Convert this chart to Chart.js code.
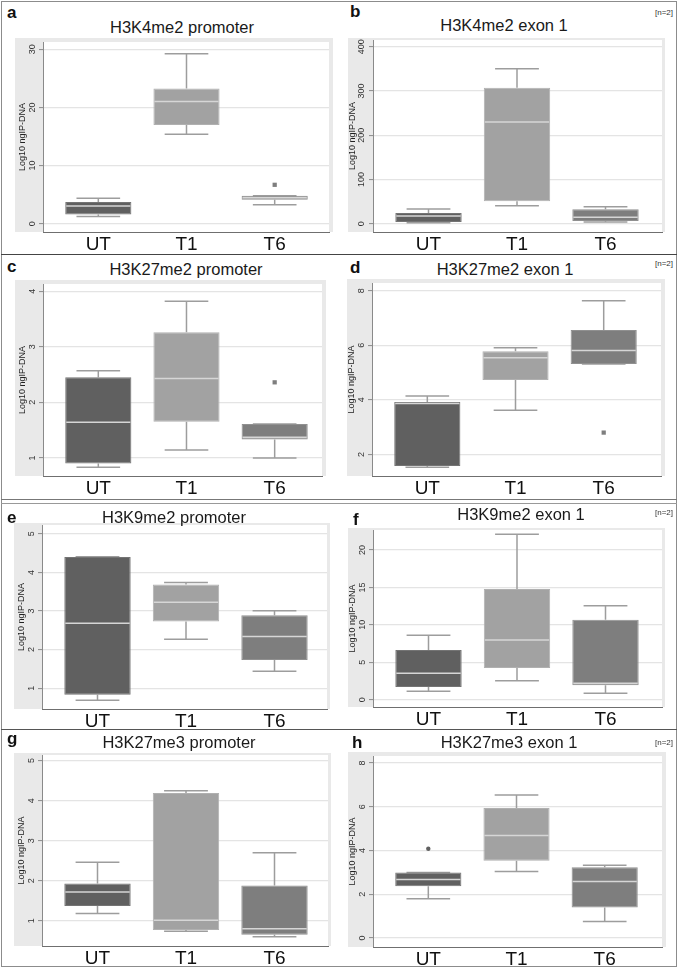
<!DOCTYPE html>
<html>
<head>
<meta charset="utf-8">
<script src="https://cdn.jsdelivr.net/npm/chart.js@4.4.0/dist/chart.umd.min.js"></script>
<style>
  body { margin: 0; background: #fff; width: 680px; height: 969px; position: relative; overflow: hidden;
         font-family: "Liberation Sans", Arial, Helvetica, sans-serif; }
  .cv { position: absolute; z-index: 1; }
  .letter { position: absolute; z-index: 3; font-weight: bold; font-size: 17px; line-height: 17px; color: #111; }
  .title { position: absolute; z-index: 3; font-size: 16.5px; line-height: 16.5px; color: #1a1a1a; transform: translateX(-50%); white-space: nowrap; }
  .n2 { position: absolute; z-index: 3; right: 7px; font-size: 8px; line-height: 8px; color: #333; }
  .frame { position: absolute; left: 1px; top: 1px; width: 676px; height: 966px; border: 1px solid #8c8c8c; box-sizing: border-box; z-index: 5; }
  .sep { position: absolute; left: 1px; width: 676px; height: 0; z-index: 5; }
</style>
</head>
<body>
<div class="frame"></div>
<div class="sep" style="top:254px;border-top:1.5px solid #444"></div>
<div class="sep" style="top:499px;border-top:1px solid #777"></div>
<div class="sep" style="top:503px;border-top:1px solid #999"></div>
<div class="sep" style="top:729px;border-top:1.5px solid #555"></div>

<script>
// Box plot data (Log10 ngIP-DNA), groups UT / T1 / T6
const groups = ['UT', 'T1', 'T6'];

// a - H3K4me2 promoter
const aLow  = [1.25, 15.4, 3.29];
const aQ1   = [1.59, 16.96, 4.14];
const aMed  = [3.06, 21.0, 4.48];
const aQ3   = [3.74, 23.25, 4.82];
const aHigh = [4.37, 29.2, 4.82];
const aOut  = [null, null, 6.7];
const aTicks = [0, 10, 20, 30];

// b - H3K4me2 exon 1
const bLow  = [2.3, 40.7, 3.8];
const bQ1   = [3.8, 50.5, 6.0];
const bMed  = [17.3, 230, 14.3];
const bQ3   = [24, 307, 32.4];
const bHigh = [33, 350, 38.4];
const bOut  = [null, null, null];
const bTicks = [0, 100, 200, 300, 400];

// c - H3K27me2 promoter
const cLow  = [0.83, 1.14, 1.0];
const cQ1   = [0.9, 1.65, 1.33];
const cMed  = [1.64, 2.43, 1.37];
const cQ3   = [2.45, 3.26, 1.61];
const cHigh = [2.57, 3.82, 1.61];
const cOut  = [null, null, 2.36];
const cTicks = [1, 2, 3, 4];

// d - H3K27me2 exon 1
const dLow  = [1.53, 3.62, 5.31];
const dQ1   = [1.58, 4.73, 5.31];
const dMed  = [3.87, 5.54, 5.81];
const dQ3   = [3.92, 5.78, 6.56];
const dHigh = [4.14, 5.91, 7.63];
const dOut  = [null, null, 2.8];
const dTicks = [2, 4, 6, 8];

// e - H3K9me2 promoter
const eLow  = [0.69, 2.27, 1.44];
const eQ1   = [0.83, 2.73, 1.73];
const eMed  = [2.68, 3.23, 2.34];
const eQ3   = [4.4, 3.69, 2.89];
const eHigh = [4.41, 3.74, 3.01];
const eOut  = [null, null, null];
const eTicks = [1, 2, 3, 4, 5];

// f - H3K9me2 exon 1
const fLow  = [1.11, 2.54, 0.85];
const fQ1   = [1.69, 4.23, 1.92];
const fMed  = [3.52, 7.97, 2.18];
const fQ3   = [6.64, 14.79, 10.69];
const fHigh = [8.6, 22.1, 12.56];
const fOut  = [null, null, null];
const fTicks = [0, 5, 10, 15, 20];

// g - H3K27me3 promoter
const gLow  = [1.18, 0.74, 0.6];
const gQ1   = [1.37, 0.77, 0.65];
const gMed  = [1.72, 1.01, 0.8];
const gQ3   = [1.93, 4.19, 1.88];
const gHigh = [2.46, 4.25, 2.7];
const gOut  = [null, null, null];
const gTicks = [1, 2, 3, 4, 5];

// h - H3K27me3 exon 1
const hLow  = [1.79, 3.04, 0.75];
const hQ1   = [2.37, 3.53, 1.39];
const hMed  = [2.67, 4.69, 2.58];
const hQ3   = [3.0, 5.94, 3.24];
const hHigh = [3.0, 6.54, 3.33];
const hOut  = [4.08, null, null];
const hTicks = [0, 2, 4, 6, 8];

const boxColors = ['#606060', '#a2a2a2', '#7e7e7e'];
const boxEdges  = ['#747474', '#b0b0b0', '#909090'];
const FONT = '"Liberation Sans", Arial, Helvetica, sans-serif';

// panel placement (page pixels) : plot left/right, gray top, x axis line, title + letter spots
const panels = [
  { letter: 'a', title: 'H3K4me2 promoter', n2: false, s: [aLow, aQ1, aMed, aQ3, aHigh, aOut], ticks: aTicks,
    yMin: -1.41, yMax: 31.24, px0: 43, px1: 330, gy0: 38, axisY: 232, gray: 2, tx: 182, ty: 21.5, lx: 7, lb: 18, pt: 'rect' },
  { letter: 'b', title: 'H3K4me2 exon 1', n2: true, ny: 9, s: [bLow, bQ1, bMed, bQ3, bHigh, bOut], ticks: bTicks,
    yMin: -18.8, yMax: 415, px0: 373, px1: 662, gy0: 38, axisY: 232, gray: 5, tx: 504, ty: 19, lx: 350, lb: 17, pt: 'rect' },
  { letter: 'c', title: 'H3K27me2 promoter', n2: false, s: [cLow, cQ1, cMed, cQ3, cHigh, cOut], ticks: cTicks,
    yMin: 0.674, yMax: 4.13, px0: 43, px1: 323, gy0: 280, axisY: 476, gray: 2, tx: 186, ty: 263, lx: 7, lb: 272, pt: 'rect' },
  { letter: 'd', title: 'H3K27me2 exon 1', n2: true, ny: 260, s: [dLow, dQ1, dMed, dQ3, dHigh, dOut], ticks: dTicks,
    yMin: 1.21, yMax: 8.28, px0: 372, px1: 662, gy0: 279, axisY: 476, gray: 5, tx: 505, ty: 263, lx: 350, lb: 273, pt: 'rect' },
  { letter: 'e', title: 'H3K9me2 promoter', n2: false, s: [eLow, eQ1, eMed, eQ3, eHigh, eOut], ticks: eTicks,
    yMin: 0.46, yMax: 5.23, px0: 42, px1: 327, gy0: 523, axisY: 709, gray: 2, tx: 174, ty: 511, lx: 7, lb: 523, pt: 'rect' },
  { letter: 'f', title: 'H3K9me2 exon 1', n2: true, ny: 509, s: [fLow, fQ1, fMed, fQ3, fHigh, fOut], ticks: fTicks,
    yMin: -0.98, yMax: 22.67, px0: 373, px1: 662, gy0: 528, axisY: 707, gray: 5, tx: 521, ty: 508, lx: 353, lb: 525, pt: 'rect' },
  { letter: 'g', title: 'H3K27me3 promoter', n2: false, s: [gLow, gQ1, gMed, gQ3, gHigh, gOut], ticks: gTicks,
    yMin: 0.37, yMax: 5.14, px0: 42, px1: 328, gy0: 753, axisY: 946, gray: 2, tx: 179, ty: 736, lx: 7, lb: 744, pt: 'rect' },
  { letter: 'h', title: 'H3K27me3 exon 1', n2: true, ny: 739, s: [hLow, hQ1, hMed, hQ3, hHigh, hOut], ticks: hTicks,
    yMin: -0.41, yMax: 8.32, px0: 373, px1: 663, gy0: 752, axisY: 947, gray: 5, tx: 509, ty: 736, lx: 352, lb: 748, pt: 'circle' }
];

// gray plot region, whiskers and medians
const boxExtras = {
  id: 'boxExtras',
  beforeDraw(chart, args, o) {
    const { ctx, chartArea: ca } = chart;
    ctx.save();
    ctx.fillStyle = '#e9e9e9';
    ctx.fillRect(o.gray, 0, chart.width - o.gray, ca.bottom);
    ctx.fillStyle = '#fff';
    ctx.fillRect(ca.left, ca.top, ca.right - ca.left, ca.bottom - ca.top);
    ctx.restore();
  },
  beforeDatasetsDraw(chart, args, o) {
    const ctx = chart.ctx, y = chart.scales.y;
    ctx.save();
    ctx.strokeStyle = '#9d9d9d';
    ctx.lineWidth = 1.5;
    chart.getDatasetMeta(0).data.forEach((bar, i) => {
      const { x, width } = bar.getProps(['x', 'width'], true);
      const cw = width * 0.33;
      const segs = [[o.q3[i], o.high[i]], [o.q1[i], o.low[i]]];
      segs.forEach(([from, to]) => {
        ctx.beginPath();
        ctx.moveTo(x, y.getPixelForValue(from));
        ctx.lineTo(x, y.getPixelForValue(to));
        ctx.moveTo(x - cw, y.getPixelForValue(to));
        ctx.lineTo(x + cw, y.getPixelForValue(to));
        ctx.stroke();
      });
    });
    ctx.restore();
  },
  afterDatasetsDraw(chart, args, o) {
    const ctx = chart.ctx, y = chart.scales.y;
    ctx.save();
    ctx.strokeStyle = '#d6d6d6';
    ctx.lineWidth = 1.5;
    chart.getDatasetMeta(0).data.forEach((bar, i) => {
      const { x, width } = bar.getProps(['x', 'width'], true);
      const py = y.getPixelForValue(o.med[i]);
      ctx.beginPath();
      ctx.moveTo(x - width / 2 + 1, py);
      ctx.lineTo(x + width / 2 - 1, py);
      ctx.stroke();
    });
    ctx.restore();
  }
};

const spacing = 88.5;
panels.forEach(p => {
  const [low, q1, med, q3, high, out] = p.s;

  const letter = document.createElement('div');
  letter.className = 'letter';
  letter.textContent = p.letter;
  letter.style.left = p.lx + 'px';
  letter.style.top = (p.lb - 14.4) + 'px';
  document.body.appendChild(letter);

  const title = document.createElement('div');
  title.className = 'title';
  title.textContent = p.title;
  title.style.left = p.tx + 'px';
  title.style.top = (p.ty - 2.2) + 'px';
  document.body.appendChild(title);

  if (p.n2) {
    const n = document.createElement('div');
    n.className = 'n2';
    n.textContent = '[n=2]';
    n.style.top = p.ny + 'px';
    document.body.appendChild(n);
  }

  const cv = document.createElement('canvas');
  cv.className = 'cv';
  const w = p.px1 - p.px0 + 33, h = p.axisY - p.gy0 + 24;
  cv.width = w; cv.height = h;
  cv.style.left = (p.px0 - 30) + 'px';
  cv.style.top = p.gy0 + 'px';
  cv.style.width = w + 'px';
  cv.style.height = h + 'px';
  document.body.appendChild(cv);

  const xMin = 1 - 55.5 / spacing;
  const xMax = xMin + (p.px1 - p.px0) / spacing;
  const widest = Math.max(...p.ticks.map(t => String(t).length)) * 5;
  const outPts = [], outCols = [];
  out.forEach((v, i) => { if (v !== null) { outPts.push({ x: i + 1, y: v }); outCols.push(boxColors[i]); } });

  new Chart(cv, {
    type: 'bar',
    data: {
      datasets: [{
        data: groups.map((g, i) => ({ x: i + 1, y: [q1[i], q3[i]] })),
        backgroundColor: boxColors,
        borderColor: boxEdges,
        borderWidth: 1,
        borderSkipped: false,
        categoryPercentage: 1,
        barPercentage: 0.75
      }, {
        type: 'scatter',
        data: outPts,
        pointStyle: p.pt,
        pointRadius: p.pt === 'rect' ? 3 : 2.2,
        backgroundColor: outCols,
        borderWidth: 0
      }]
    },
    options: {
      responsive: false,
      animation: false,
      devicePixelRatio: 1,
      events: [],
      layout: { padding: { top: 2, right: 3, left: 0, bottom: 0 } },
      plugins: {
        legend: { display: false },
        tooltip: { enabled: false },
        boxExtras: { gray: p.gray, low, q1, med, q3, high }
      },
      scales: {
        x: {
          type: 'linear', min: xMin, max: xMax, offset: false,
          afterBuildTicks: s => { s.ticks = groups.map((g, i) => ({ value: i + 1 })); },
          afterFit: s => { s.height = 24; s.paddingLeft = 0; s.paddingRight = 0; },
          ticks: { callback: (v, i) => groups[i], color: '#111', font: { family: FONT, size: 19 }, padding: 1, autoSkip: false, maxRotation: 0 },
          grid: { display: false, drawTicks: false, offset: false },
          border: { display: true, color: '#6f6f6f', width: 1 }
        },
        y: {
          min: p.yMin, max: p.yMax, beginAtZero: false,
          afterBuildTicks: s => { s.ticks = p.ticks.map(v => ({ value: v })); },
          afterFit: s => { s.width = 30; s.paddingTop = 0; s.paddingBottom = 0; },
          ticks: { color: '#333', font: { family: FONT, size: 9 }, minRotation: 90, maxRotation: 90,
                   crossAlign: 'center', padding: Math.max(0, 6.5 - widest / 2) },
          grid: { color: '#e4e4e4', lineWidth: 1.2, drawTicks: true, tickLength: 4, tickColor: '#8a8a8a', tickWidth: 1 },
          border: { display: true, color: '#8a8a8a', width: 1 },
          title: { display: true, text: 'Log10 ngIP-DNA', color: '#222', font: { family: FONT, size: 9 }, padding: { top: 4.6, bottom: 0 } }
        }
      }
    },
    plugins: [boxExtras]
  });
});
</script>
</body>
</html>
